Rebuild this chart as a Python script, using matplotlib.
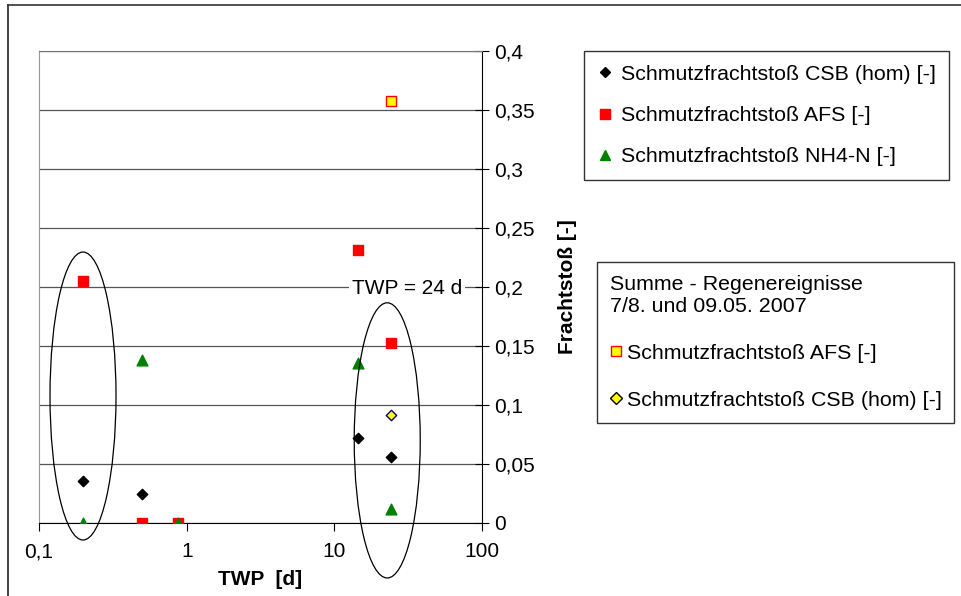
import matplotlib.pyplot as plt
from matplotlib.patches import Ellipse
from matplotlib.lines import Line2D
from matplotlib.ticker import FixedLocator, FixedFormatter

plt.rcParams['font.family'] = ['Liberation Sans', 'DejaVu Sans']

# TWP [d] for each event
twp = [0.2, 0.5, 0.875, 14.5, 24]
csb = [0.0355, 0.0245, None, 0.072, 0.056]
afs = [0.205, 0.0, 0.0, 0.231, 0.1525]
nh4 = [0.0, 0.138, 0.0, 0.1355, 0.012]

# summed rain events 7/8. and 09.05.2007
sum_twp = [24]
sum_afs = [0.358]
sum_csb = [0.0915]

xticks = [0.1, 1, 10, 100]
xticklabels = ["0,1", "1", "10", "100"]
yticks = [0, 0.05, 0.1, 0.15, 0.2, 0.25, 0.3, 0.35, 0.4]
yticklabels = ["0", "0,05", "0,1", "0,15", "0,2", "0,25", "0,3", "0,35", "0,4"]

FS = 15
LFS = 15.4

fig = plt.figure(figsize=(9.61, 5.96), dpi=100)
ax = fig.add_axes([0.0406, 0.1225, 0.461, 0.792])

# outer chart border
fig.add_artist(Line2D([0.0088, 0.0088], [0, 0.992], transform=fig.transFigure, color="#222222", lw=1.2))
fig.add_artist(Line2D([0.0088, 1.0], [0.992, 0.992], transform=fig.transFigure, color="#333333", lw=1.2))

for v in yticks:
    ax.axhline(v, color="#555555", lw=0.9, zorder=1)

cx = [t for t, c in zip(twp, csb) if c is not None]
cy = [c for c in csb if c is not None]
ax.scatter(cx, cy, marker="D", s=28, color="black", zorder=4)
ax.scatter(twp, afs, marker="s", s=60, color="#ff0000", zorder=3)
ax.scatter(twp, nh4, marker="^", s=60, color="#008000", zorder=5)
ax.scatter(sum_twp, sum_afs, marker="s", s=60, facecolor="#ffff00", edgecolor="#ff0000", lw=1, zorder=4)
ax.scatter(sum_twp, sum_csb, marker="D", s=28, facecolor="#ffff00", edgecolor="#000080", lw=1, zorder=4)

ax.set_xscale("log")
ax.set_xlim(0.1, 100)
ax.set_ylim(0, 0.4)

# ellipses drawn in axes coordinates
ax.add_patch(Ellipse((0.0993, 0.269), 0.149, 0.61, transform=ax.transAxes,
                     fill=False, edgecolor="black", lw=0.9, zorder=6, clip_on=False))
ax.add_patch(Ellipse((0.786, 0.175), 0.149, 0.583, transform=ax.transAxes,
                     fill=False, edgecolor="black", lw=0.9, zorder=6, clip_on=False))
ax.text(0.83, 0.497, "TWP = 24 d", transform=ax.transAxes, ha="center", va="center",
        fontsize=FS, zorder=7, bbox=dict(facecolor="white", edgecolor="none", pad=2))

ax.spines["left"].set_color("#999999")
ax.spines["top"].set_color("#777777")
ax.spines["right"].set_color("black")
ax.spines["bottom"].set_color("black")

ax.xaxis.set_major_locator(FixedLocator(xticks))
ax.xaxis.set_major_formatter(FixedFormatter(xticklabels))
ax.xaxis.set_minor_locator(FixedLocator([]))
ax.tick_params(axis="x", direction="out", length=6, labelsize=FS, pad=8)

ax.yaxis.tick_right()
ax.yaxis.set_label_position("right")
ax.set_yticks(yticks)
ax.set_yticklabels(yticklabels)
ax.tick_params(axis="y", direction="inout", length=10, labelsize=FS, pad=4)

ax.set_xlabel("TWP  [d]", fontsize=FS, fontweight="bold", labelpad=6)
ax.set_ylabel("Frachtstoß [-]", fontsize=FS, fontweight="bold", labelpad=16)

h1 = [
    Line2D([], [], marker="D", ls="", color="black", markersize=5),
    Line2D([], [], marker="s", ls="", color="#ff0000", markersize=7),
    Line2D([], [], marker="^", ls="", color="#008000", markersize=7),
]
l1 = ["Schmutzfrachtstoß CSB (hom) [-]", "Schmutzfrachtstoß AFS [-]", "Schmutzfrachtstoß NH4-N [-]"]
leg1 = fig.legend(h1, l1, loc="upper left", bbox_to_anchor=(0.608, 0.915), fontsize=LFS,
                  frameon=True, fancybox=False, edgecolor="black", handlelength=0.6,
                  handletextpad=0.45, labelspacing=1.05, borderpad=0.65, borderaxespad=0)
leg1.get_frame().set_linewidth(1.0)

h2 = [
    Line2D([], [], marker="s", ls="", markerfacecolor="#ffff00", markeredgecolor="#ff0000", markersize=7),
    Line2D([], [], marker="D", ls="", markerfacecolor="#ffff00", markeredgecolor="black", markersize=6),
]
l2 = ["Schmutzfrachtstoß AFS [-]", "Schmutzfrachtstoß CSB (hom) [-]"]
leg2 = fig.legend(h2, l2, loc="upper left", bbox_to_anchor=(0.621, 0.56), fontsize=LFS,
                  title="Summe - Regenereignisse\n7/8. und 09.05. 2007", title_fontsize=LFS,
                  frameon=True, fancybox=False, edgecolor="black", handlelength=0.6,
                  handletextpad=0.2, labelspacing=1.3, borderpad=0.6, borderaxespad=0,
                  alignment="left")
leg2.get_frame().set_linewidth(1.0)

fig.savefig("out.png", dpi=100)
